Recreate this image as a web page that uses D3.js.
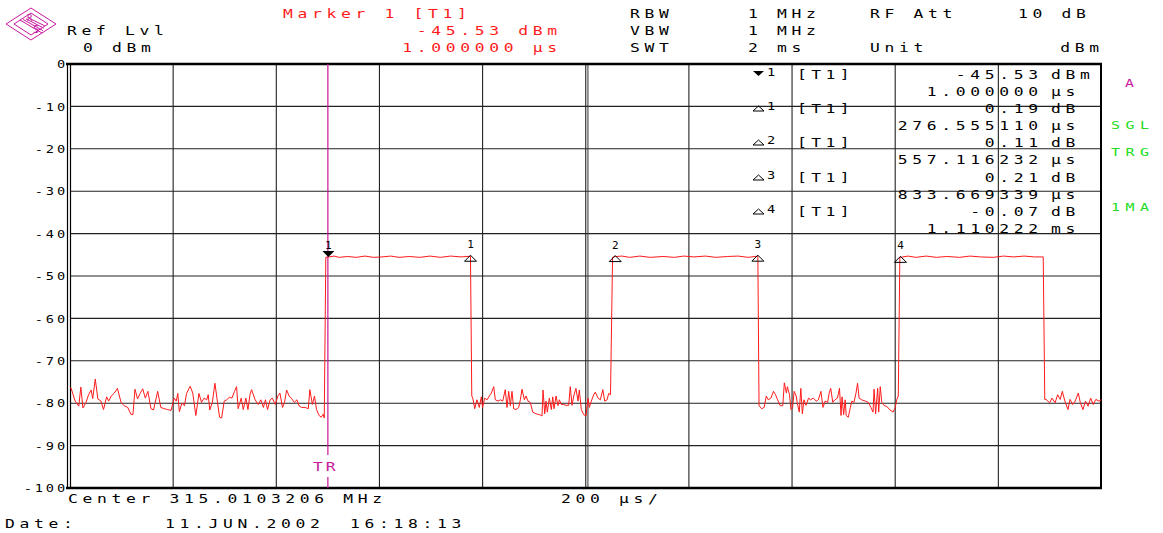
<!DOCTYPE html>
<html><head><meta charset="utf-8">
<script src="https://cdn.jsdelivr.net/npm/d3@7/dist/d3.min.js"></script>
<style>
html,body{margin:0;padding:0;background:#fff;}
text{font-family:"DejaVu Sans Mono",monospace;}
</style></head>
<body><svg id="c" width="1163" height="533"></svg>
<script>
// ---------- data ----------
const yTicks = [0,-10,-20,-30,-40,-50,-60,-70,-80,-90,-100];
const xGridTimes = [-500,-300,-100,100,300,500,700,900,1100,1300,1500]; // µs, 200 µs/div
const timeDomain = [-500,1500];
const levelDomain = [-100,0];

const noise1 = [[-500,-76.5],[-498,-76.4],[-495,-77.6],[-490,-79.5],[-483,-80.7],[-479,-76.2],[-475,-81.1],[-469,-79.8],[-464,-78],[-459,-76.9],[-456,-78.9],[-451,-74.3],[-446,-79],[-440,-79.5],[-435,-81.5],[-429,-78.5],[-425,-79.5],[-420,-78.3],[-414,-77.6],[-408,-76.5],[-401,-79.8],[-395,-80.6],[-388,-81],[-382,-82.6],[-378,-82.7],[-374,-76.7],[-369,-79],[-364,-77.7],[-359,-76.6],[-354,-78.8],[-349,-77.2],[-343,-81.3],[-338,-81.6],[-330,-77.2],[-324,-81],[-317,-81.3],[-311,-81.5],[-304,-81.7],[-298,-78.8],[-294,-79.5],[-291,-77.7],[-288,-82],[-283,-80],[-278,-80.6],[-274,-77.7],[-267,-76],[-262,-77.6],[-256,-82.9],[-250,-77.7],[-245,-79.8],[-240,-78.8],[-235,-79.2],[-232,-78],[-229,-81.6],[-224,-79.8],[-219,-75.3],[-214,-79.8],[-210,-83.3],[-206,-83.5],[-201,-79.5],[-196,-79.2],[-191,-78.6],[-186,-78.8],[-181,-77.2],[-177,-76.1],[-174,-81.3],[-168,-78.8],[-164,-81.5],[-159,-78.8],[-155,-81.5],[-151,-78],[-148,-76.8],[-141,-79.2],[-135,-80.3],[-130,-79.2],[-125,-81],[-121,-79.2],[-117,-81.5],[-112,-79.2],[-108,-78.8],[-102,-80.3],[-97,-78.3],[-93,-77.6],[-88,-81],[-84,-79.8],[-80,-76.9],[-75,-78.3],[-71,-78.8],[-65,-79.8],[-60,-79.2],[-56,-80.6],[-51,-81],[-44,-81],[-38,-81.3],[-35,-76.8],[-30,-80.3],[-26,-78.3],[-22,-81.5],[-17,-82.9],[-13,-83.3],[-9,-82.6],[-7,-83.5]];
const pulse1 = [[-4,-45.6],[1,-45.53],[12,-45.3],[22,-45.6],[38,-45.4],[55,-45.6],[72,-45.3],[88,-45.6],[105,-45.5],[122,-45.3],[138,-45.6],[158,-45.4],[178,-45.6],[198,-45.3],[218,-45.6],[238,-45.3],[258,-45.5],[276.5,-45.34]];
const noise2 = [[279,-78.3],[281,-78.8],[284.7,-81.3],[289,-79.2],[293.6,-81],[297.5,-78.5],[300,-81],[304,-78.8],[308.6,-79.2],[313,-78.3],[317,-77.6],[321.6,-76.1],[324.7,-79.2],[330,-79.5],[334.4,-79.2],[339,-79.5],[344,-76.8],[347.3,-81],[350.6,-77.2],[353.8,-80.6],[357,-77.2],[360.3,-81.3],[364.8,-81.5],[370,-81],[373.2,-79.2],[376.4,-76.7],[381,-79.2],[384.2,-78.3],[388,-79.5],[392.5,-79.8],[397.2,-82.1],[403.6,-82.5],[410,-82.7],[415.2,-83],[417.2,-76.9],[420.5,-82.5],[423,-79.5],[425.5,-82.1],[429.4,-78.8],[433.3,-81.5],[436,-78.5],[438.5,-81.3],[442.4,-78.3],[446.2,-80.6],[448.8,-79.2],[452.6,-80.3],[457.3,-80.3],[461.7,-80.5],[467,-80.5],[470,-76.1],[473.4,-80.5],[476.7,-78.3],[481,-76.5],[485,-79.5],[487.5,-76.9],[491.4,-81.5],[496,-82.7],[500.5,-83],[504.4,-78.8],[507,-81],[510.8,-79.5],[515.5,-78],[518.6,-77.4],[523.8,-78.8],[528.3,-79.2],[533,-76.8],[536.8,-79.5],[541.3,-79.2],[544.5,-77.7],[548,-78]];
const pulse2 = [[552,-45.6],[557.1,-45.42],[570,-45.3],[585,-45.6],[605,-45.3],[625,-45.6],[650,-45.4],[672,-45.6],[690,-45.3],[710,-45.5],[732,-45.3],[752,-45.6],[775,-45.4],[795,-45.3],[815,-45.6],[833.7,-45.32]];
const noise3 = [[836,-80.6],[841,-81.3],[846,-81],[850,-78.3],[854,-79.2],[859,-78.8],[864,-77.2],[868,-78],[872,-79.2],[877,-80.6],[882,-80.6],[885,-75.2],[889,-77.6],[891,-76.1],[895,-78],[898,-81.5],[901,-81],[904,-77.2],[908,-78.3],[910,-79.8],[914,-82.1],[917,-76.5],[920,-82.5],[923,-79.2],[927,-80.5],[932,-78.8],[936,-79.2],[941,-78.8],[947,-79.5],[951,-79.2],[956,-77.2],[960,-81],[964,-79.5],[969,-79.8],[972,-77.6],[975,-76.5],[979,-79.8],[983,-79.2],[988,-78.8],[992,-76.5],[995,-82.9],[997,-78.5],[1000,-82.7],[1003,-79.2],[1005,-82.9],[1009,-83.3],[1013,-81],[1016,-79.5],[1020,-79.8],[1024,-77.6],[1027,-75.3],[1030,-78.8],[1035,-79.2],[1042,-79.5],[1048,-79.8],[1053,-81],[1057,-82.1],[1059,-76.7],[1062,-82.5],[1066,-76.5],[1068,-82.1],[1071,-76.1],[1074,-79.8],[1078,-80.5],[1084,-80.8],[1090,-81.6],[1096,-82.1],[1100,-81],[1103,-79.2],[1106,-78.3]];
const pulse3 = [[1109,-45.6],[1110.2,-45.6],[1125,-45.3],[1140,-45.6],[1160,-45.3],[1180,-45.6],[1200,-45.4],[1225,-45.6],[1245,-45.3],[1265,-45.5],[1290,-45.6],[1310,-45.3],[1330,-45.5],[1350,-45.3],[1370,-45.5],[1387,-45.5]];
const noise4 = [[1390,-79.1],[1392.5,-79.1],[1399.6,-79.9],[1404,-78.8],[1410,-79.9],[1415,-78],[1420,-79.1],[1424,-77.2],[1429,-79.5],[1435,-81.5],[1439,-79.1],[1444,-80.3],[1449,-79.5],[1455,-77.6],[1459,-79.9],[1464,-81.5],[1469,-79.5],[1474,-80.7],[1479,-78.8],[1484,-80.3],[1489,-79.1],[1495,-79.5],[1500,-79.2]];

const markerTimes  = [1, 276.555110, 557.116232, 833.669339, 1110.222];
const markerLevels = [-45.53, -45.34, -45.42, -45.32, -45.60];
const markerLabels = ["1","1","2","3","4"];
const markerKinds  = ["marker","delta","delta","delta","delta"];
const triggerTime = 0;

const tableSymbols = ["1","1","2","3","4"];
const tableTrace   = ["[T1]","[T1]","[T1]","[T1]","[T1]"];
const tableLevels  = ["-45.53","0.19","0.11","0.21","-0.07"];
const tableLevelUnits = ["dBm","dB","dB","dB","dB"];
const tableTimes   = ["1.000000","276.555110","557.116232","833.669339","1.110222"];
const tableTimeUnits = ["µs","µs","µs","µs","ms"];

// ---------- drawing ----------
const svg = d3.select("#c");
svg.append("rect").attr("width",1163).attr("height",533).attr("fill","#fff");
const x = d3.scaleLinear().domain(timeDomain).range([70,1101.5]);
const y = d3.scaleLinear().domain(levelDomain).range([488,64]);
const RED = "#ff1a1a", MAG = "#c8189c", GRN = "#22dd22";
const PITCH = 14.5, SX = 1.42, FS = 11.5;

function txt(s, px, py, color, opts={}){
  const fs = opts.size||FS, sx = opts.sx||SX, pitch = opts.pitch||PITCH;
  const ls = pitch/sx - 0.602*fs;
  const ax = opts.anchor==="end" ? px + ls*sx : px;
  return svg.append("text").attr("x",0).attr("y",0).text(s)
    .attr("transform",`translate(${ax},${py}) scale(${sx},1)`)
    .attr("fill",color||"#000").attr("font-size",fs)
    .attr("letter-spacing",ls)
    .attr("text-anchor",opts.anchor||"start");
}

// grid
const g = svg.append("g");
g.selectAll("line.h").data(yTicks.slice(1,-1)).join("line")
  .attr("x1",70).attr("x2",1101).attr("y1",d=>y(d)).attr("y2",d=>y(d))
  .attr("stroke","#222").attr("stroke-width",1.1);
g.selectAll("line.v").data(xGridTimes.slice(1,-1)).join("line")
  .attr("y1",64).attr("y2",488).attr("x1",d=>x(d)).attr("x2",d=>x(d))
  .attr("stroke","#222").attr("stroke-width",1.1);
g.append("line").attr("y1",64).attr("y2",488).attr("x1",x(500)+2.2).attr("x2",x(500)+2.2)
  .attr("stroke","#333").attr("stroke-width",1);

// frame
g.append("line").attr("x1",66).attr("x2",1102).attr("y1",y(0)).attr("y2",y(0)).attr("stroke","#000").attr("stroke-width",2.6);
g.append("line").attr("x1",66).attr("x2",1102).attr("y1",y(-100)).attr("y2",y(-100)).attr("stroke","#000").attr("stroke-width",2.6);
g.append("line").attr("x1",67.5).attr("x2",67.5).attr("y1",63).attr("y2",489).attr("stroke","#000").attr("stroke-width",1.2);
g.append("line").attr("x1",70.5).attr("x2",70.5).attr("y1",63).attr("y2",489).attr("stroke","#000").attr("stroke-width",1.2);
g.append("line").attr("x1",1101).attr("x2",1101).attr("y1",63).attr("y2",489).attr("stroke","#000").attr("stroke-width",2);

// y axis labels (drawn via axis, then restyled)
const yAxis = d3.axisLeft(y).tickValues(yTicks).tickSize(0).tickPadding(0).tickFormat(d=>String(d));
const ya = svg.append("g").attr("transform","translate(66,0)").call(yAxis);
ya.select(".domain").remove();
ya.selectAll(".tick text").each(function(d){
  const t = d3.select(this);
  t.attr("x",0).attr("y",0).attr("dy","0.36em")
   .attr("font-family","DejaVu Sans Mono").attr("font-size",10.5)
   .attr("letter-spacing",2.2).attr("fill","#000")
   .attr("text-anchor","end")
   .attr("transform","translate(2,0) scale(1.3,1)");
});

// trigger line
svg.append("line").attr("x1",x(triggerTime)).attr("x2",x(triggerTime)).attr("y1",64).attr("y2",455).attr("stroke",MAG).attr("stroke-width",1.2);
svg.append("line").attr("x1",x(triggerTime)).attr("x2",x(triggerTime)).attr("y1",477).attr("y2",488).attr("stroke",MAG).attr("stroke-width",1.2);
txt("TR", x(triggerTime)-15, 471, MAG, {pitch:13});

// trace
const trace = [].concat(noise1,pulse1,noise2,pulse2,noise3,pulse3,noise4);
const line = d3.line().x(d=>x(d[0])).y(d=>y(d[1]));
svg.append("path").datum(trace).attr("d",line).attr("fill","none")
  .attr("stroke",RED).attr("stroke-width",1).attr("stroke-linejoin","round");

// markers on trace
markerTimes.forEach((t,i)=>{
  const mx = x(t), my = y(markerLevels[i]);
  if(markerKinds[i]==="marker"){
    svg.append("path").attr("d",`M${mx-6},${my-6}L${mx+6},${my-6}L${mx},${my}Z`).attr("fill","#000");
  } else {
    svg.append("path").attr("d",`M${mx},${my-1}L${mx+6},${my+5}L${mx-6},${my+5}Z`)
      .attr("fill","none").attr("stroke","#000").attr("stroke-width",1);
  }
  svg.append("text").attr("x",mx).attr("y",my-8).text(markerLabels[i])
    .attr("font-family","DejaVu Sans").attr("font-size",11).attr("text-anchor","middle").attr("fill","#000");
});

// marker table
const rowY = [79,113,147,182,216];
tableSymbols.forEach((s,i)=>{
  const ry = rowY[i];
  if(i===0){
    svg.append("path").attr("d",`M753,${ry-8}L764,${ry-8}L758.5,${ry-3}Z`).attr("fill","#000");
  } else {
    svg.append("path").attr("d",`M758.5,${ry-7}L764,${ry-2}L753,${ry-2}Z`).attr("fill","none").attr("stroke","#000").attr("stroke-width",1);
  }
  txt(s, 767, ry-3, "#000", {size:10.5, sx:1.3});
  txt(tableTrace[i], 797, ry, "#000", {pitch:14.3});
  txt(tableLevels[i], 1038, ry, "#000", {anchor:"end"});
  txt(tableLevelUnits[i], 1051, ry, "#000");
  txt(tableTimes[i], 1038, ry+17, "#000", {anchor:"end"});
  txt(tableTimeUnits[i], 1051, ry+17, "#000");
});

// header
const hdrLeft = [["Ref Lvl",67,35],["0 dBm",83,52]];
hdrLeft.forEach(d=>txt(d[0],d[1],d[2],"#000"));
txt("Marker 1 [T1]",283,18,RED);
txt("-45.53 dBm",557,35,RED,{anchor:"end"});
txt("1.000000 µs",557,52,RED,{anchor:"end"});
const hdrRight = [["RBW",630,18],["1 MHz",748,18],["RF Att",870,18],["10 dB",1018,18],
  ["VBW",630,35],["1 MHz",748,35],["SWT",630,52],["2 ms",748,52],["Unit",870,52]];
hdrRight.forEach(d=>txt(d[0],d[1],d[2],"#000"));
txt("dBm",1099,52,"#000",{anchor:"end"});

// side labels
txt("A",1125,87,MAG,{size:10.5});
txt("SGL",1111,129,GRN,{size:10.5});
txt("TRG",1111,156,GRN,{size:10.5});
txt("1MA",1111,211,GRN,{size:10.5});

// footer
txt("Center 315.0103206 MHz",68,503,"#000");
txt("200 µs/",561,503,"#000");
txt("Date:",5,528,"#000");
txt("11.JUN.2002",165,528,"#000");
txt("16:18:13",350,528,"#000");

// R&S logo
const logo = svg.append("g").attr("fill","none").attr("stroke",MAG).attr("stroke-width",1);
logo.append("path").attr("d","M6,24L31,8L56,24L31,40Z");
logo.append("path").attr("d","M14,24L31,13L48,24L31,35Z");
[0,3,6,9].forEach(o=>logo.append("path").attr("d",`M${20+o},${20-o*0.2}L${42+o*0.3},${33-o*0.8}`));
svg.append("text").attr("x",27).attr("y",21).text("R").attr("font-size",9).attr("fill",MAG).attr("font-family","DejaVu Sans");
svg.append("text").attr("x",33).attr("y",33).text("S").attr("font-size",10).attr("fill",MAG).attr("font-family","DejaVu Sans");
</script></body></html>
